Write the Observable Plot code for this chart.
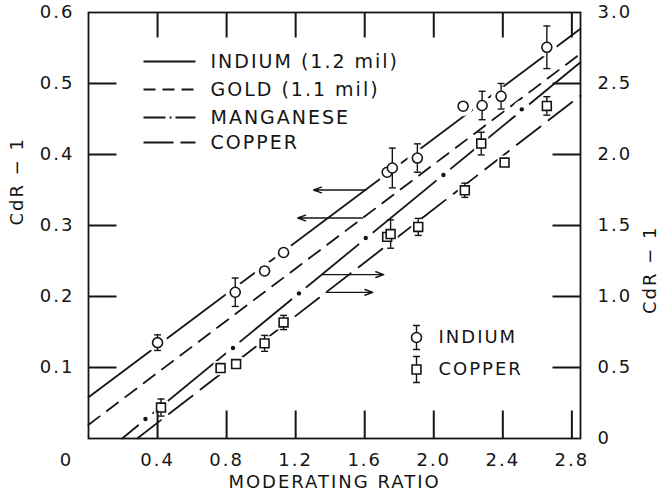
<!DOCTYPE html>
<html><head><meta charset="utf-8">
<script src="https://cdn.jsdelivr.net/npm/d3@7"></script>
<script src="https://cdn.jsdelivr.net/npm/@observablehq/plot@0.6"></script>
<style>
html,body{margin:0;padding:0;background:#fff;}
#chart{width:660px;height:499px;}
</style></head><body><div id="chart"></div>
<script>
// ---------- data ----------
// Indium points: left axis (CdR-1, 0–0.6)
const indiumX   = [0.40, 0.85, 1.02, 1.13, 1.73, 1.76, 1.905, 2.17, 2.28, 2.39, 2.655];
const indiumY   = [0.135, 0.206, 0.236, 0.262, 0.375, 0.381, 0.395, 0.468, 0.469, 0.482, 0.551];
const indiumErr = [0.011, 0.020, 0, 0, 0, 0.028, 0.020, 0, 0.020, 0.018, 0.030];

// Copper points: right axis (CdR-1, 0–3.0)
const copperX   = [0.42, 0.765, 0.855, 1.02, 1.13, 1.73, 1.75, 1.91, 2.18, 2.275, 2.41, 2.655];
const copperY   = [0.218, 0.496, 0.524, 0.67, 0.817, 1.42, 1.44, 1.49, 1.748, 2.077, 1.943, 2.342];
const copperErr = [0.06, 0, 0, 0.056, 0.05, 0, 0.10, 0.06, 0.05, 0.08, 0, 0.065];

// Manganese points: right axis
const manganeseX = [0.33, 0.837, 1.219, 1.606, 2.056, 2.51];
const manganeseY = [0.137, 0.637, 1.022, 1.412, 1.856, 2.318];

// Fitted lines (end points)
const indiumFitX = [0, 2.85],      indiumFitY = [0.058, 0.577];     // left axis
const goldFitX = [0, 2.85],        goldFitY = [0.0193, 0.542];      // left axis
const manganeseFitX = [0.195, 2.85], manganeseFitY = [0, 2.65];     // right axis
const copperFitX = [0.282, 2.85],  copperFitY = [0, 2.415];         // right axis

// Arrows telling which axis each line uses
const arrowLeftFromX = [1.607, 1.587], arrowLeftToX = [1.304, 1.212], arrowLeftY = [0.350, 0.3106];
const arrowRightFromX = [1.352, 1.377], arrowRightToX = [1.71, 1.647], arrowRightY = [1.154, 1.029];

// Ticks and labels
const xDomain = [0, 2.85];
const yDomain = [0, 0.6];
const xTicks = [0.4, 0.8, 1.2, 1.6, 2.0, 2.4, 2.8];
const leftTicks = [0.1, 0.2, 0.3, 0.4, 0.5, 0.6];
const rightTicks = [0, 0.5, 1.0, 1.5, 2.0, 2.5, 3.0];
const innerYTicks = [0.1, 0.2, 0.3, 0.4, 0.5];
const lineLegend = ["INDIUM (1.2 mil)", "GOLD (1.1 mil)", "MANGANESE", "COPPER"];
const pointLegend = ["INDIUM", "COPPER"];
const xLabel = "MODERATING RATIO";
const yLabel = "CdR − 1";

// ---------- chart ----------
const R = 0.6 / 3.0; // right-axis units -> left-axis units
const W = 660, H = 499, mL = 88, mR = 80, mT = 12, mB = 61;
const ink = "#151515";

const ind = indiumX.map((x, i) => ({x, y: indiumY[i], e: indiumErr[i]}));
const cu = copperX.map((x, i) => ({x, y: copperY[i] * R, e: copperErr[i] * R}));
const mn = manganeseX.map((x, i) => ({x, y: manganeseY[i] * R}));
const fit = (xs, ys, k) => xs.map((x, i) => ({x, y: ys[i] * k}));
const errs = [...ind, ...cu].filter(d => d.e > 0);

const capSym = {draw(c) { c.moveTo(-3.5, 0); c.lineTo(3.5, 0); }};
const lineSym = {draw(c) { c.moveTo(-26, 0); c.lineTo(26, 0); }};
const barSym = (h) => ({draw(c) { c.moveTo(0, -h); c.lineTo(0, h); c.moveTo(-3.5, -h); c.lineTo(3.5, -h); c.moveTo(-3.5, h); c.lineTo(3.5, h); }});
// inward tick shapes
const tickRight = {draw(c) { c.moveTo(0, 0); c.lineTo(28, 0); }};
const tickLeft = {draw(c) { c.moveTo(0, 0); c.lineTo(-28, 0); }};
const tickUp = {draw(c) { c.moveTo(0, 0); c.lineTo(0, -28); }};
const tickDown = {draw(c) { c.moveTo(0, 0); c.lineTo(0, 25); }};

const legendDash = [null, "12,7", "22,4,2,4,20", "30,7,15"];
const legendDy = [49, 77, 105, 130];

const legendMarks = lineLegend.flatMap((name, i) => [
  Plot.dot([name], {frameAnchor: "top-left", dx: 81, dy: legendDy[i], symbol: lineSym, stroke: ink, fill: "none", strokeWidth: 1.8, strokeDasharray: legendDash[i]}),
  Plot.text([name], {frameAnchor: "top-left", dx: 122, dy: legendDy[i], textAnchor: "start", lineAnchor: "middle", fontSize: 19, fill: ink})
]);

const chart = Plot.plot({
  width: W, height: H,
  marginLeft: mL, marginRight: mR, marginTop: mT, marginBottom: mB,
  style: "font-family: 'DejaVu Sans'; font-size: 18px; letter-spacing: 2px; background: #fff; color: " + ink + ";",
  x: {domain: xDomain, axis: null},
  y: {domain: yDomain, axis: null},
  marks: [
    Plot.frame({stroke: ink, strokeWidth: 1.8}),
    // tick labels
    Plot.axisY(leftTicks, {anchor: "left", tickSize: 0, tickPadding: 14, tickFormat: d3.format(".1f"), label: null, fontSize: 18, fill: ink}),
    Plot.axisY(rightTicks.map(v => v * R), {anchor: "right", tickSize: 0, tickPadding: 17, tickFormat: d => d === 0 ? "0" : (d / R).toFixed(1), label: null, fontSize: 18, fill: ink}),
    Plot.axisX(xTicks, {anchor: "bottom", tickSize: 0, tickPadding: 15, tickFormat: d3.format(".1f"), label: null, fontSize: 18, fill: ink}),
    Plot.axisX([0], {anchor: "bottom", tickSize: 0, tickPadding: 15, dx: -22, tickFormat: () => "0", label: null, fontSize: 18, fill: ink}),
    // axis titles
    Plot.text([yLabel], {frameAnchor: "left", dx: -71, rotate: -90, fontSize: 18, fill: ink}),
    Plot.text([yLabel], {frameAnchor: "right", dx: 70, rotate: -90, fontSize: 18, fill: ink}),
    Plot.text([xLabel], {frameAnchor: "bottom", dy: 49, fontSize: 18, fill: ink}),
    // fitted lines
    Plot.line(fit(indiumFitX, indiumFitY, 1), {x: "x", y: "y", stroke: ink, strokeWidth: 1.8}),
    Plot.line(fit(goldFitX, goldFitY, 1), {x: "x", y: "y", stroke: ink, strokeWidth: 1.8, strokeDasharray: "14,9"}),
    Plot.line(fit(manganeseFitX, manganeseFitY, R), {x: "x", y: "y", stroke: ink, strokeWidth: 1.8}),
    Plot.line(fit(copperFitX, copperFitY, R), {x: "x", y: "y", stroke: ink, strokeWidth: 1.8, strokeDasharray: "30,10"}),
    // arrows
    Plot.arrow(arrowLeftY.map((y, i) => ({x1: arrowLeftFromX[i], x2: arrowLeftToX[i], y})), {x1: "x1", x2: "x2", y1: "y", y2: "y", stroke: ink, strokeWidth: 1.4, headLength: 9, headAngle: 40}),
    Plot.arrow(arrowRightY.map((y, i) => ({x1: arrowRightFromX[i], x2: arrowRightToX[i], y: y * R})), {x1: "x1", x2: "x2", y1: "y", y2: "y", stroke: ink, strokeWidth: 1.4, headLength: 9, headAngle: 40}),
    // white halos that break the lines around the markers
    Plot.dot(ind, {x: "x", y: "y", r: 10, fill: "#fff"}),
    Plot.dot(cu, {x: "x", y: "y", r: 8, symbol: "square", fill: "#fff"}),
    Plot.dot(mn, {x: "x", y: "y", r: 9, fill: "#fff"}),
    // error bars
    Plot.ruleX(errs, {x: "x", y1: d => d.y - d.e, y2: d => d.y + d.e, stroke: ink, strokeWidth: 1.4}),
    Plot.dot(errs, {x: "x", y: d => d.y - d.e, symbol: capSym, stroke: ink, fill: "none", strokeWidth: 1.4}),
    Plot.dot(errs, {x: "x", y: d => d.y + d.e, symbol: capSym, stroke: ink, fill: "none", strokeWidth: 1.4}),
    // markers
    Plot.dot(ind, {x: "x", y: "y", r: 5, fill: "#fff", stroke: ink, strokeWidth: 1.6}),
    Plot.dot(cu, {x: "x", y: "y", r: 5, symbol: "square", fill: "#fff", stroke: ink, strokeWidth: 1.6}),
    Plot.dot(mn, {x: "x", y: "y", r: 2.2, fill: ink}),
    // inward ticks on all four sides (x and y channels both given)
    Plot.dot(innerYTicks, {x: () => xDomain[0], y: d => d, symbol: tickRight, stroke: ink, fill: "none", strokeWidth: 2}),
    Plot.dot(innerYTicks, {x: () => xDomain[1], y: d => d, symbol: tickLeft, stroke: ink, fill: "none", strokeWidth: 2}),
    Plot.dot(xTicks, {x: d => d, y: () => yDomain[0], symbol: tickUp, stroke: ink, fill: "none", strokeWidth: 2}),
    Plot.dot(xTicks, {x: d => d, y: () => yDomain[1], symbol: tickDown, stroke: ink, fill: "none", strokeWidth: 2}),
    // line-style legend
    ...legendMarks,
    // point legend
    Plot.dot([pointLegend[0]], {frameAnchor: "top-left", dx: 328, dy: 325, symbol: barSym(12), stroke: ink, fill: "none", strokeWidth: 1.4}),
    Plot.dot([pointLegend[0]], {frameAnchor: "top-left", dx: 328, dy: 325, r: 5, fill: "#fff", stroke: ink, strokeWidth: 1.6}),
    Plot.text([pointLegend[0]], {frameAnchor: "top-left", dx: 350, dy: 325, textAnchor: "start", lineAnchor: "middle", fontSize: 18, fill: ink}),
    Plot.dot([pointLegend[1]], {frameAnchor: "top-left", dx: 328, dy: 357, symbol: barSym(13), stroke: ink, fill: "none", strokeWidth: 1.4}),
    Plot.dot([pointLegend[1]], {frameAnchor: "top-left", dx: 328, dy: 357, r: 5, symbol: "square", fill: "#fff", stroke: ink, strokeWidth: 1.6}),
    Plot.text([pointLegend[1]], {frameAnchor: "top-left", dx: 350, dy: 357, textAnchor: "start", lineAnchor: "middle", fontSize: 18, fill: ink})
  ]
});
document.getElementById("chart").appendChild(chart);
</script>
</body></html>
